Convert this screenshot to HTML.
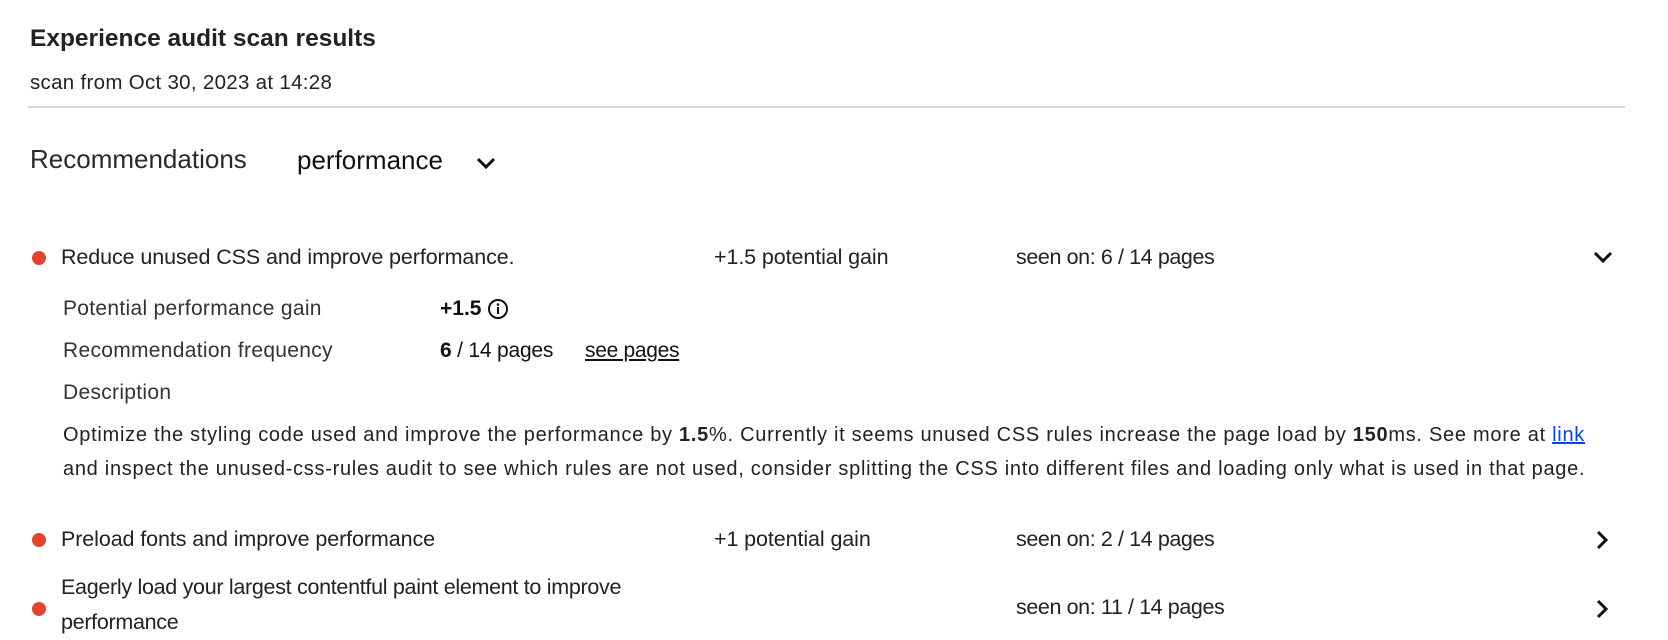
<!DOCTYPE html>
<html><head><meta charset="utf-8"><style>
body{margin:0;width:1668px;height:638px;background:#fff;position:relative;overflow:hidden;font-family:"Liberation Sans",sans-serif;color:#222}
.a{position:absolute;white-space:nowrap}
.dot{position:absolute;width:14px;height:14px;border-radius:50%;background:#e0452f}
.t{font-size:21.5px;letter-spacing:-0.1px}
.lab{font-size:21px;color:#333;letter-spacing:0.3px}
.desc{font-size:20px;letter-spacing:0.72px;color:#222}
svg{position:absolute}
</style></head><body>
<div class="a" style="left:30px;top:25px;font-size:24.5px;font-weight:bold">Experience audit scan results</div>
<div class="a" style="left:30px;top:71px;font-size:20.5px;letter-spacing:0.3px">scan from Oct 30, 2023 at 14:28</div>
<div class="a" style="left:28px;top:106px;width:1597px;height:2px;background:#d5d5d5"></div>
<div class="a" style="left:30px;top:144px;font-size:26px;color:#2a2a2a">Recommendations</div>
<div class="a" style="left:297px;top:145px;font-size:26px;color:#111">performance</div>
<svg style="left:475px;top:155px" width="22" height="16"><path d="M3 4 L11 12 L19 4" stroke="#111" stroke-width="3" fill="none"/></svg>

<div class="dot" style="left:32px;top:251px"></div>
<div class="a t" style="left:61px;top:245px">Reduce unused CSS and improve performance.</div>
<div class="a t" style="left:714px;top:245px">+1.5 potential gain</div>
<div class="a t" style="left:1016px;top:245px;letter-spacing:-0.4px">seen on: 6 / 14 pages</div>
<svg style="left:1592px;top:249px" width="22" height="16"><path d="M3 4 L11 12 L19 4" stroke="#111" stroke-width="3" fill="none"/></svg>

<div class="a lab" style="left:63px;top:297px">Potential performance gain</div>
<div class="a lab" style="left:440px;top:297px;font-weight:bold;color:#111;letter-spacing:0">+1.5</div>
<svg style="left:487px;top:298px" width="22" height="22"><circle cx="11" cy="11" r="9" stroke="#111" stroke-width="2" fill="none"/><rect x="10" y="9" width="2" height="7" fill="#111"/><circle cx="11" cy="6.5" r="1.3" fill="#111"/></svg>
<div class="a lab" style="left:63px;top:339px">Recommendation frequency</div>
<div class="a lab" style="left:440px;top:339px;color:#111;letter-spacing:-0.2px"><b>6</b> / 14 pages</div>
<div class="a lab" style="left:585px;top:339px;color:#111;text-decoration:underline;letter-spacing:-0.3px">see pages</div>
<div class="a lab" style="left:63px;top:381px">Description</div>
<div class="a desc" style="left:63px;top:424px">Optimize the styling code used and improve the performance by <b>1.5</b>%. Currently it seems unused CSS rules increase the page load by <b>150</b>ms. See more at <span style="color:#0645d8;text-decoration:underline">link</span></div>
<div class="a desc" style="left:63px;top:458px">and inspect the unused-css-rules audit to see which rules are not used, consider splitting the CSS into different files and loading only what is used in that page.</div>

<div class="dot" style="left:32px;top:533px"></div>
<div class="a t" style="left:61px;top:527px">Preload fonts and improve performance</div>
<div class="a t" style="left:714px;top:527px">+1 potential gain</div>
<div class="a t" style="left:1016px;top:527px;letter-spacing:-0.4px">seen on: 2 / 14 pages</div>
<svg style="left:1594px;top:529px" width="16" height="22"><path d="M4 3 L12 11 L4 19" stroke="#111" stroke-width="3" fill="none"/></svg>

<div class="dot" style="left:32px;top:602px"></div>
<div class="a t" style="left:61px;top:570px;line-height:35px;letter-spacing:-0.3px">Eagerly load your largest contentful paint element to improve<br>performance</div>
<div class="a t" style="left:1016px;top:595px;letter-spacing:-0.4px">seen on: 11 / 14 pages</div>
<svg style="left:1594px;top:598px" width="16" height="22"><path d="M4 3 L12 11 L4 19" stroke="#111" stroke-width="3" fill="none"/></svg>
</body></html>
